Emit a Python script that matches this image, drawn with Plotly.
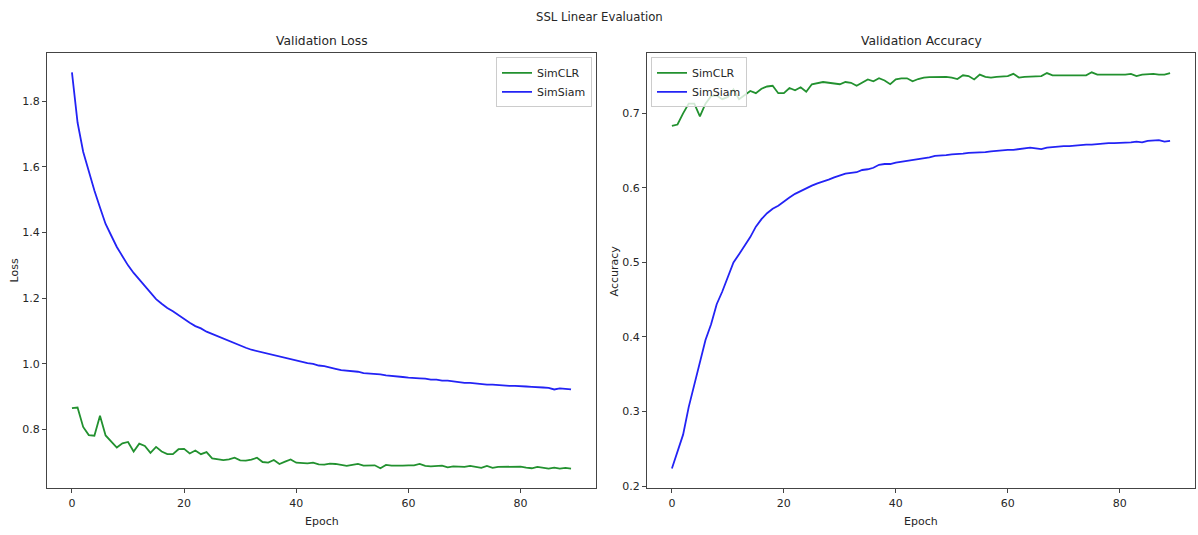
import plotly.graph_objects as go

epochs = list(range(90))

loss_simclr = [0.865, 0.867, 0.808, 0.783, 0.781, 0.842, 0.782, 0.762, 0.745, 0.758,
               0.762, 0.733, 0.757, 0.750, 0.729, 0.747, 0.733, 0.725, 0.725, 0.740,
               0.741, 0.727, 0.736, 0.725, 0.731, 0.712, 0.710, 0.707, 0.709, 0.714,
               0.706, 0.705, 0.708, 0.714, 0.701, 0.699, 0.707, 0.695, 0.702, 0.709,
               0.699, 0.697, 0.697, 0.699, 0.694, 0.693, 0.696, 0.695, 0.692, 0.689,
               0.692, 0.695, 0.690, 0.691, 0.691, 0.682, 0.692, 0.690, 0.689, 0.690,
               0.691, 0.691, 0.695, 0.689, 0.688, 0.689, 0.690, 0.685, 0.688, 0.687,
               0.686, 0.689, 0.686, 0.683, 0.689, 0.683, 0.686, 0.686, 0.686, 0.686,
               0.687, 0.684, 0.682, 0.686, 0.683, 0.681, 0.684, 0.681, 0.683, 0.681]

loss_simsiam = [1.888, 1.735, 1.646, 1.583, 1.528, 1.476, 1.426, 1.391, 1.356, 1.328,
                1.300, 1.277, 1.257, 1.237, 1.217, 1.197, 1.183, 1.170, 1.160, 1.148,
                1.135, 1.125, 1.115, 1.108, 1.098, 1.091, 1.082, 1.076, 1.068, 1.062,
                1.054, 1.049, 1.043, 1.039, 1.033, 1.030, 1.025, 1.022, 1.017, 1.014,
                1.009, 1.007, 1.002, 1.000, 0.995, 0.993, 0.988, 0.985, 0.981, 0.980,
                0.977, 0.976, 0.972, 0.971, 0.968, 0.968, 0.965, 0.964, 0.961, 0.960,
                0.958, 0.958, 0.956, 0.955, 0.952, 0.952, 0.949, 0.949, 0.946, 0.945,
                0.942, 0.942, 0.940, 0.940, 0.937, 0.937, 0.935, 0.935, 0.933, 0.933,
                0.931, 0.931, 0.930, 0.930, 0.928, 0.927, 0.922, 0.925, 0.924, 0.922]

acc_simclr = [0.683, 0.685, 0.700, 0.713, 0.713, 0.696, 0.713, 0.723, 0.724, 0.719,
              0.722, 0.732, 0.719, 0.724, 0.730, 0.727, 0.733, 0.736, 0.737, 0.727,
              0.727, 0.734, 0.731, 0.735, 0.729, 0.739, 0.740, 0.742, 0.741, 0.740,
              0.739, 0.742, 0.741, 0.737, 0.741, 0.7455, 0.743, 0.747, 0.744, 0.739,
              0.7455, 0.747, 0.747, 0.743, 0.746, 0.748, 0.7485, 0.7487, 0.7487, 0.749,
              0.748, 0.746, 0.751, 0.750, 0.7455, 0.752, 0.749, 0.748, 0.749, 0.750,
              0.750, 0.753, 0.748, 0.749, 0.7495, 0.750, 0.750, 0.754, 0.751, 0.751,
              0.751, 0.751, 0.7515, 0.751, 0.751, 0.755, 0.752, 0.752, 0.752, 0.7515,
              0.7515, 0.752, 0.753, 0.750, 0.752, 0.753, 0.753, 0.752, 0.752, 0.754]

acc_simsiam = [0.2235, 0.247, 0.269, 0.306, 0.335, 0.366, 0.396, 0.417, 0.444, 0.461,
               0.481, 0.500, 0.511, 0.523, 0.534, 0.548, 0.558, 0.566, 0.572, 0.576,
               0.582, 0.587, 0.592, 0.596, 0.599, 0.603, 0.606, 0.608, 0.611, 0.614,
               0.617, 0.619, 0.620, 0.621, 0.624, 0.625, 0.627, 0.631, 0.632, 0.632,
               0.634, 0.635, 0.636, 0.637, 0.639, 0.640, 0.641, 0.643, 0.643, 0.644,
               0.645, 0.645, 0.646, 0.647, 0.647, 0.648, 0.648, 0.649, 0.650, 0.650,
               0.651, 0.651, 0.652, 0.653, 0.654, 0.653, 0.652, 0.654, 0.655, 0.655,
               0.656, 0.656, 0.657, 0.657, 0.658, 0.658, 0.659, 0.659, 0.660, 0.660,
               0.660, 0.661, 0.661, 0.662, 0.661, 0.663, 0.664, 0.664, 0.662, 0.663]

x_ticks = [0, 20, 40, 60, 80]
loss_ticks = [0.8, 1.0, 1.2, 1.4, 1.6, 1.8]
acc_ticks = [0.2, 0.3, 0.4, 0.5, 0.6, 0.7]

GREEN = "#22912f"
BLUE = "#2323f5"
TEXT = "#262626"
FONT = "DejaVu Sans"
W, H = 1198, 535


def mpl_range(vals):
    lo, hi = min(vals), max(vals)
    m = (hi - lo) * 0.05
    return [lo - m, hi + m]


fig = go.Figure()
fig.add_trace(go.Scatter(x=epochs, y=loss_simclr, mode="lines", name="SimCLR",
                         line=dict(color=GREEN, width=1.8), xaxis="x", yaxis="y", legend="legend"))
fig.add_trace(go.Scatter(x=epochs, y=loss_simsiam, mode="lines", name="SimSiam",
                         line=dict(color=BLUE, width=1.8), xaxis="x", yaxis="y", legend="legend"))
fig.add_trace(go.Scatter(x=epochs, y=acc_simclr, mode="lines", name="SimCLR",
                         line=dict(color=GREEN, width=1.8), xaxis="x2", yaxis="y2", legend="legend2"))
fig.add_trace(go.Scatter(x=epochs, y=acc_simsiam, mode="lines", name="SimSiam",
                         line=dict(color=BLUE, width=1.8), xaxis="x2", yaxis="y2", legend="legend2"))

ydom = [1 - 493 / H, 1 - 53 / H]
axis_common = dict(showline=True, linecolor="#444444", linewidth=1, mirror=True,
                   ticks="outside", ticklen=4, tickcolor="#444444", showgrid=False,
                   zeroline=False, tickfont=dict(family=FONT, size=11, color=TEXT))

legend_common = dict(yanchor="top", bgcolor="rgba(255,255,255,0.8)", bordercolor="#cccccc",
                     borderwidth=1, font=dict(family=FONT, size=11, color=TEXT),
                     itemwidth=30, tracegroupgap=0)

fig.update_layout(
    width=W, height=H,
    margin=dict(l=0, r=0, t=0, b=0),
    paper_bgcolor="white", plot_bgcolor="white",
    font=dict(family=FONT, color=TEXT),
    xaxis=dict(domain=[47 / W, 596 / W], range=mpl_range(epochs), tickvals=x_ticks,
               anchor="y", **axis_common),
    yaxis=dict(domain=ydom, range=mpl_range(loss_simclr + loss_simsiam), tickvals=loss_ticks,
               tickformat=".1f", anchor="x", **axis_common),
    xaxis2=dict(domain=[647 / W, 1195 / W], range=mpl_range(epochs), tickvals=x_ticks,
                anchor="y2", **axis_common),
    yaxis2=dict(domain=ydom, range=mpl_range(acc_simclr + acc_simsiam), tickvals=acc_ticks,
                tickformat=".1f", anchor="x2", **axis_common),
    legend=dict(x=592 / W, y=1 - 58 / H, xanchor="right", **legend_common),
    legend2=dict(x=651 / W, y=1 - 58 / H, xanchor="left", **legend_common),
    showlegend=True,
)

annotations = [
    dict(text="SSL Linear Evaluation", x=599 / W, y=1 - 17 / H, size=11.7),
    dict(text="Validation Loss", x=322 / W, y=1 - 41 / H, size=12.3),
    dict(text="Validation Accuracy", x=921 / W, y=1 - 41 / H, size=12.3),
    dict(text="Epoch", x=322 / W, y=1 - 526 / H, size=11),
    dict(text="Epoch", x=921 / W, y=1 - 526 / H, size=11),
]
for a in annotations:
    fig.add_annotation(text=a["text"], x=a["x"], y=a["y"], xref="paper", yref="paper",
                       xanchor="center", yanchor="middle", showarrow=False,
                       font=dict(family=FONT, size=a["size"], color=TEXT))

fig.add_annotation(text="Loss", x=14 / W, y=1 - 273 / H, xref="paper", yref="paper",
                   textangle=-90, showarrow=False, xanchor="center", yanchor="middle",
                   font=dict(family=FONT, size=11, color=TEXT))
fig.add_annotation(text="Accuracy", x=614 / W, y=1 - 273 / H, xref="paper", yref="paper",
                   textangle=-90, showarrow=False, xanchor="center", yanchor="middle",
                   font=dict(family=FONT, size=11, color=TEXT))

fig.write_html("out.html")
